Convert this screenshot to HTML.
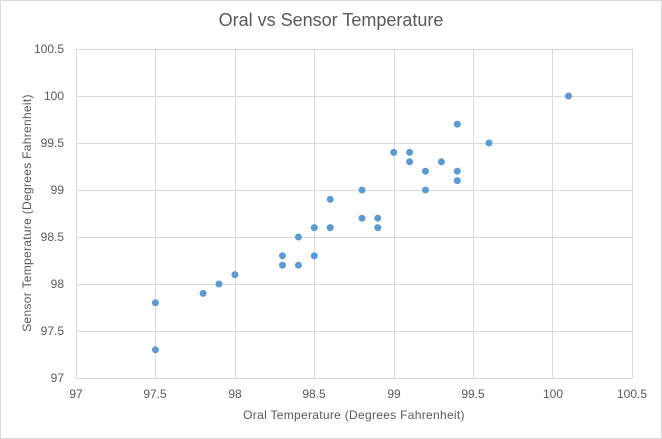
<!DOCTYPE html>
<html><head><meta charset="utf-8"><style>
html,body{margin:0;padding:0;background:#fff;}
svg{display:block;font-family:"Liberation Sans",Arial,sans-serif;}
</style></head><body>
<svg width="662" height="439" viewBox="0 0 662 439" xmlns="http://www.w3.org/2000/svg">
<rect x="0.5" y="0.5" width="661" height="438" fill="#fff" stroke="#d9d9d9"/>
<text x="331" y="26" text-anchor="middle" font-size="18" fill="#595959">Oral vs Sensor Temperature</text>
<g stroke="#d9d9d9" stroke-width="1">
<line x1="76" y1="49.5" x2="632" y2="49.5"/>
<line x1="76" y1="96.5" x2="632" y2="96.5"/>
<line x1="76" y1="143.5" x2="632" y2="143.5"/>
<line x1="76" y1="190.5" x2="632" y2="190.5"/>
<line x1="76" y1="237.5" x2="632" y2="237.5"/>
<line x1="76" y1="284.5" x2="632" y2="284.5"/>
<line x1="76" y1="331.5" x2="632" y2="331.5"/>
<line x1="76" y1="378.5" x2="632" y2="378.5"/>
<line x1="76.5" y1="49" x2="76.5" y2="378"/>
<line x1="155.5" y1="49" x2="155.5" y2="378"/>
<line x1="235.5" y1="49" x2="235.5" y2="378"/>
<line x1="314.5" y1="49" x2="314.5" y2="378"/>
<line x1="394.5" y1="49" x2="394.5" y2="378"/>
<line x1="473.5" y1="49" x2="473.5" y2="378"/>
<line x1="552.5" y1="49" x2="552.5" y2="378"/>
<line x1="632.5" y1="49" x2="632.5" y2="378"/>
</g>
<g font-size="12" fill="#595959" text-anchor="end">
<text x="64" y="53">100.5</text><text x="64" y="100">100</text><text x="64" y="147">99.5</text>
<text x="64" y="194">99</text><text x="64" y="241">98.5</text><text x="64" y="288">98</text>
<text x="64" y="335">97.5</text><text x="64" y="382">97</text>
</g>
<g font-size="12" fill="#595959" text-anchor="middle">
<text x="76" y="398">97</text><text x="155" y="398">97.5</text><text x="235" y="398">98</text>
<text x="314" y="398">98.5</text><text x="394" y="398">99</text><text x="473" y="398">99.5</text>
<text x="553" y="398">100</text><text x="632" y="398">100.5</text>
</g>
<text x="354" y="419" text-anchor="middle" font-size="12" fill="#595959" letter-spacing="0.3">Oral Temperature (Degrees Fahrenheit)</text>
<text transform="translate(31,213) rotate(-90)" text-anchor="middle" font-size="12" fill="#595959" letter-spacing="0.3">Sensor Temperature  (Degrees Fahrenheit)</text>
<g fill="#5b9bd5">
<circle cx="155.4" cy="302.8" r="3.5"/>
<circle cx="155.4" cy="349.8" r="3.5"/>
<circle cx="203.1" cy="293.4" r="3.5"/>
<circle cx="219.0" cy="284" r="3.5"/>
<circle cx="234.9" cy="274.6" r="3.5"/>
<circle cx="282.5" cy="255.8" r="3.5"/>
<circle cx="282.5" cy="265.2" r="3.5"/>
<circle cx="298.4" cy="237" r="3.5"/>
<circle cx="298.4" cy="265.2" r="3.5"/>
<circle cx="314.3" cy="227.6" r="3.5"/>
<circle cx="314.3" cy="255.8" r="3.5"/>
<circle cx="330.2" cy="199.4" r="3.5"/>
<circle cx="330.2" cy="227.6" r="3.5"/>
<circle cx="362.0" cy="190" r="3.5"/>
<circle cx="362.0" cy="218.2" r="3.5"/>
<circle cx="377.8" cy="218.2" r="3.5"/>
<circle cx="377.8" cy="227.6" r="3.5"/>
<circle cx="393.7" cy="152.4" r="3.5"/>
<circle cx="409.6" cy="152.4" r="3.5"/>
<circle cx="409.6" cy="161.8" r="3.5"/>
<circle cx="425.5" cy="171.2" r="3.5"/>
<circle cx="425.5" cy="190" r="3.5"/>
<circle cx="441.4" cy="161.8" r="3.5"/>
<circle cx="457.3" cy="124.2" r="3.5"/>
<circle cx="457.3" cy="171.2" r="3.5"/>
<circle cx="457.3" cy="180.6" r="3.5"/>
<circle cx="489.0" cy="143" r="3.5"/>
<circle cx="568.5" cy="96" r="3.5"/>
</g>
</svg>
</body></html>
